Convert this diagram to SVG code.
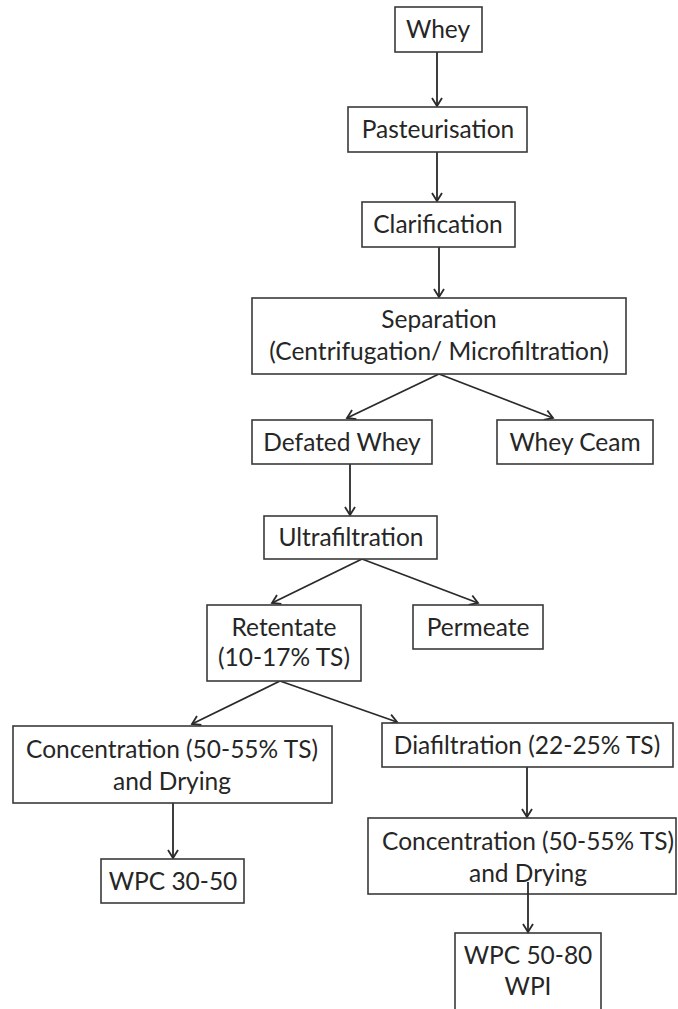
<svg xmlns="http://www.w3.org/2000/svg" width="678" height="1009" viewBox="0 0 678 1009">
<style>
.box{fill:#fff;stroke:#3a3a3a;stroke-width:1.6}
.t{font-family:Lato,"Open Sans","Liberation Sans",sans-serif;font-size:24.5px;fill:#262626;text-anchor:middle}
.c{stroke:#2a2a2a;stroke-width:1.8;fill:none}
</style>
<defs>
<marker id="ah" markerUnits="userSpaceOnUse" markerWidth="16" markerHeight="16" refX="10" refY="6" orient="auto">
<path d="M2,1 L10,6 L2,11" fill="none" stroke="#2a2a2a" stroke-width="1.8"/>
</marker>
</defs>
<rect width="678" height="1009" fill="#fff"/>
<g id="connectors">
<line class="c" x1="437" y1="52" x2="437" y2="106" marker-end="url(#ah)"/>
<line class="c" x1="437" y1="152" x2="437" y2="201" marker-end="url(#ah)"/>
<line class="c" x1="439" y1="247" x2="439" y2="297" marker-end="url(#ah)"/>
<line class="c" x1="439" y1="374" x2="347" y2="418" marker-end="url(#ah)"/>
<line class="c" x1="439" y1="374" x2="553" y2="418" marker-end="url(#ah)"/>
<line class="c" x1="350" y1="464" x2="350" y2="515" marker-end="url(#ah)"/>
<line class="c" x1="362" y1="559" x2="272" y2="603" marker-end="url(#ah)"/>
<line class="c" x1="362" y1="559" x2="478" y2="603" marker-end="url(#ah)"/>
<line class="c" x1="280" y1="681" x2="192" y2="724" marker-end="url(#ah)"/>
<line class="c" x1="280" y1="681" x2="397" y2="722" marker-end="url(#ah)"/>
<line class="c" x1="173" y1="803" x2="173" y2="858" marker-end="url(#ah)"/>
<line class="c" x1="527" y1="767" x2="527" y2="817" marker-end="url(#ah)"/>
</g>
<g id="whey"><rect class="box" x="395" y="7" width="87" height="45"/><text class="t" x="438" y="38">Whey</text></g>
<g id="pasteurisation"><rect class="box" x="348" y="107" width="179" height="45"/><text class="t" x="438" y="138">Pasteurisation</text></g>
<g id="clarification"><rect class="box" x="362" y="202" width="153" height="45"/><text class="t" x="438" y="233">Clarification</text></g>
<g id="separation"><rect class="box" x="252" y="298" width="374" height="76"/><text class="t" x="439" y="328">Separation</text><text class="t" x="439" y="360">(Centrifugation/ Microfiltration)</text></g>
<g id="defated"><rect class="box" x="252" y="420" width="180" height="44"/><text class="t" x="342" y="451">Defated Whey</text></g>
<g id="cream"><rect class="box" x="497" y="420" width="156" height="44"/><text class="t" x="575" y="451">Whey Ceam</text></g>
<g id="ultra"><rect class="box" x="264" y="516" width="173" height="43"/><text class="t" x="351" y="546">Ultrafiltration</text></g>
<g id="retentate"><rect class="box" x="207" y="605" width="154" height="76"/><text class="t" x="284" y="636">Retentate</text><text class="t" x="284" y="666">(10-17% TS)</text></g>
<g id="permeate"><rect class="box" x="413" y="605" width="130" height="44"/><text class="t" x="478" y="636">Permeate</text></g>
<g id="conc1"><rect class="box" x="13" y="726" width="319" height="77"/><text class="t" x="172" y="758">Concentration (50-55% TS)</text><text class="t" x="172" y="790">and Drying</text></g>
<g id="diaf"><rect class="box" x="382" y="723" width="291" height="44"/><text class="t" x="527" y="754">Diafiltration (22-25% TS)</text></g>
<g id="conc2"><rect class="box" x="368" y="818" width="308" height="76"/><text class="t" x="528" y="850">Concentration (50-55% TS)</text><text class="t" x="528" y="882">and Drying</text></g>
<g id="wpc30"><rect class="box" x="101" y="859" width="143" height="44"/><text class="t" x="173" y="890">WPC 30-50</text></g>
<g id="wpc50"><rect class="box" x="455" y="933" width="146" height="90"/><text class="t" x="528" y="964">WPC 50-80</text><text class="t" x="528" y="995">WPI</text></g>
<g id="connectors-top"><line class="c" x1="528" y1="882" x2="528" y2="932" marker-end="url(#ah)"/></g>
</svg>
